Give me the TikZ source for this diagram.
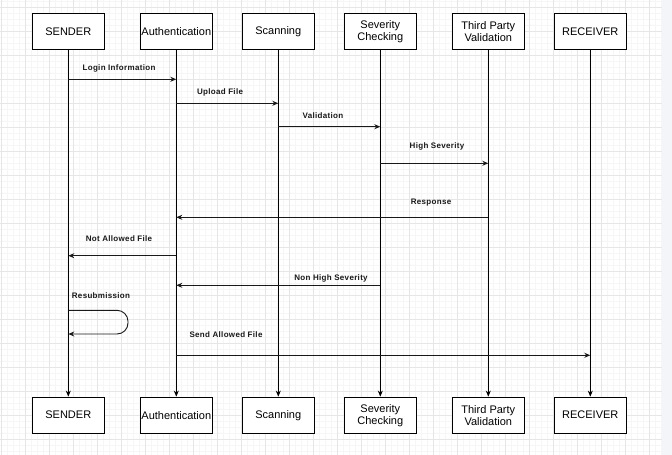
\documentclass[tikz,border=0pt]{standalone}
\usepackage{fontspec}
\setmainfont{Liberation Sans}
\newfontfamily\lblfont[LetterSpace=4]{Liberation Sans}
\usetikzlibrary{arrows.meta}
\definecolor{gridminor}{HTML}{F6F6F6}
\definecolor{gridmajor}{HTML}{E6E6E6}
\definecolor{sidestrip}{HTML}{F4F5F8}
\begin{document}
\begin{tikzpicture}[x=1pt,y=-1pt,
  actor/.style={draw=black,line width=1.2pt,fill=white,minimum width=72pt,minimum height=36pt,inner sep=0pt,align=center,font=\fontsize{11}{12}\selectfont},
  life/.style={line width=0.9pt,-{Stealth[length=6pt,width=5pt]}},
  msg/.style={line width=0.9pt,draw=black!90,-{Stealth[length=6pt,width=5pt]}},
  lbl/.style={font=\lblfont\bfseries\fontsize{8}{9}\selectfont,inner sep=0pt,text=black!90}]
\useasboundingbox (0,0) rectangle (672,455);
% background grid
\fill[white] (0,0) rectangle (662,455);
\begin{scope}
\clip (0,0) rectangle (662,455);
\foreach \i in {0,...,112} {\draw[gridminor,line width=0.6pt] (1+\i*6,0) -- (1+\i*6,455);}
\foreach \i in {-1,...,76} {\draw[gridminor,line width=0.6pt] (0,7.5+\i*6) -- (662,7.5+\i*6);}
\foreach \i in {0,...,28} {\draw[gridmajor,line width=0.8pt] (1+\i*24,0) -- (1+\i*24,455);}
\foreach \i in {0,...,19} {\draw[gridmajor,line width=0.8pt] (0,7.5+\i*24) -- (662,7.5+\i*24);}
\end{scope}
\fill[sidestrip] (662,0) rectangle (672,455);
% actors
\node[actor] (t1) at (68.3,31.3) {SENDER};
\node[actor] (t2) at (176.3,31.3) {Authentication};
\node[actor] (t3) at (278.3,31.3) {Scanning};
\node[actor] (t4) at (380.3,31.3) {Severity\\Checking};
\node[actor] (t5) at (488.3,31.3) {Third Party\\Validation};
\node[actor] (t6) at (590.3,31.3) {RECEIVER};
\node[actor] (b1) at (68.3,415.2) {SENDER};
\node[actor] (b2) at (176.3,415.2) {Authentication};
\node[actor] (b3) at (278.3,415.2) {Scanning};
\node[actor] (b4) at (380.3,415.2) {Severity\\Checking};
\node[actor] (b5) at (488.3,415.2) {Third Party\\Validation};
\node[actor] (b6) at (590.3,415.2) {RECEIVER};
% lifelines
\foreach \k in {1,...,6} {\draw[life] (t\k.south) -- (b\k.north);}
% message rows
\coordinate (y1) at (0,79.3);
\coordinate (y2) at (0,103.3);
\coordinate (y3) at (0,126.7);
\coordinate (y4) at (0,163.3);
\coordinate (y5) at (0,217.3);
\coordinate (y6) at (0,255.7);
\coordinate (y7) at (0,285.3);
\coordinate (y8a) at (0,310.3);
\coordinate (y8b) at (0,334);
\coordinate (y9) at (0,355.3);
\coordinate (loopr) at (128,0);
% messages
\draw[msg] (t1 |- y1) -- (t2 |- y1);
\draw[msg] (t2 |- y2) -- (t3 |- y2);
\draw[msg] (t3 |- y3) -- (t4 |- y3);
\draw[msg] (t4 |- y4) -- (t5 |- y4);
\draw[msg] (t5 |- y5) -- (t2 |- y5);
\draw[msg] (t2 |- y6) -- (t1 |- y6);
\draw[msg] (t4 |- y7) -- (t2 |- y7);
\draw[msg,rounded corners=11pt] (t1 |- y8a) -- (loopr |- y8a) -- (loopr |- y8b) -- (t1 |- y8b);
\draw[msg] (t2 |- y9) -- (t6 |- y9);
% labels
\node[lbl] (l1) at (119,68) {Login Information};
\node[lbl] (l2) at (220,92) {Upload File};
\node[lbl] (l3) at (323,116) {Validation};
\node[lbl] (l4) at (437,146) {High Severity};
\node[lbl] (l5) at (431,203) {Response};
\node[lbl] (l6) at (119,239) {Not Allowed File};
\node[lbl] (l7) at (331,278) {Non High Severity};
\node[lbl] (l8) at (101,296) {Resubmission};
\node[lbl] (l9) at (226,335) {Send Allowed File};
\end{tikzpicture}
\end{document}
